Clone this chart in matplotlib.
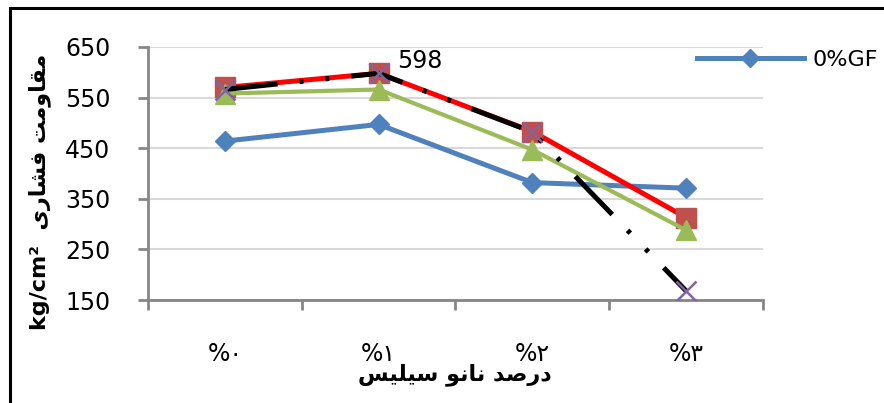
import matplotlib
matplotlib.use("Agg")
import matplotlib.pyplot as plt
from matplotlib.patches import Rectangle

plt.rcParams["font.family"] = ["DejaVu Sans"]

# categories (nano silica percent) and compressive strength values
categories = ["%۰", "%۱", "%۲", "%۳"]
gf_0 = [464, 497, 382, 371]
series_red = [570, 598, 483, 313]
series_green = [558, 566, 447, 288]
series_black = [566, 598, 482, 168]
legend_names = ["0%GF"]

# Persian labels, written with presentation forms in visual order
xlabel = "ﺲﻴﻠﻴﺳ ﻮﻧﺎﻧ ﺪﺻﺭﺩ"
ylabel = "kg/cm\u00b2  ﻯﺭﺎﺸﻓ ﺖﻣﻭﺎﻘﻣ"

W, H = 884, 403
fig = plt.figure(figsize=(W / 100, H / 100), dpi=100)
ax = fig.add_axes([148 / W, 1 - 300 / H, (763 - 148) / W, (300 - 47) / H])

x = list(range(len(categories)))

l1, = ax.plot(x, gf_0, color="#4F81BD", lw=3.6, marker="D", ms=10,
              mec="#4F81BD", mfc="#4F81BD", zorder=3)
ax.plot(x, series_red, color="#FF0000", lw=3.6, marker="s", ms=14,
        mec="#C0504D", mfc="#C0504D", zorder=4)
ax.plot(x, series_green, color="#9BBB59", lw=3.0, marker="^", ms=15,
        mec="#9BBB59", mfc="#9BBB59", zorder=5)
ax.plot(x, series_black, color="black", lw=3.6, zorder=6,
        dashes=(10.6, 4.4, 0.8, 4.4, 0.8, 4.4), dash_capstyle="butt")
ax.plot(x, series_black, ls="none", marker="x", ms=14, mew=1.8,
        color="#8064A2", zorder=7)

ax.annotate("598", (1, series_red[1]), xytext=(13, 9), textcoords="offset points",
            ha="left", va="center", fontsize=17)

ax.set_xlim(-0.5, 3.5)
ax.set_ylim(150, 650)
ax.set_yticks(range(150, 651, 100))
ax.set_xticks(x)
ax.set_xticklabels(categories)
ax.set_xticks([-0.5, 0.5, 1.5, 2.5, 3.5], minor=True)
ax.tick_params(axis="x", which="major", length=0, pad=30, labelsize=17)
ax.tick_params(axis="x", which="minor", length=7, width=2, color="#868686")
ax.tick_params(axis="y", length=7, width=2, color="#868686", pad=20, labelsize=17)

ax.grid(axis="y", color="#D9D9D9", lw=1.5)
ax.set_axisbelow(True)
for s in ["top", "right"]:
    ax.spines[s].set_visible(False)
for s in ["left", "bottom"]:
    ax.spines[s].set_color("#868686")
    ax.spines[s].set_linewidth(2)

fig.text(455 / W, 1 - 375 / H, xlabel, ha="center", va="center",
         fontsize=16, fontweight="bold")
fig.text(40 / W, 1 - 192 / H, ylabel, ha="center", va="center",
         rotation=90, fontsize=16, fontweight="bold")

fig.legend([l1], legend_names, loc="center left", bbox_to_anchor=(697 / W, 1 - 60 / H),
           frameon=False, fontsize=16, handlelength=4.8, handletextpad=0.4,
           borderpad=0, borderaxespad=0, markerscale=0.9)

# chart border, cropped at right and bottom
fig.add_artist(Rectangle((10 / W, -0.2), 1.2, 1.2 - 8 / H,
                         transform=fig.transFigure, fill=False, lw=2.2,
                         ec="black", clip_on=False))

fig.savefig("out.png", dpi=100)
